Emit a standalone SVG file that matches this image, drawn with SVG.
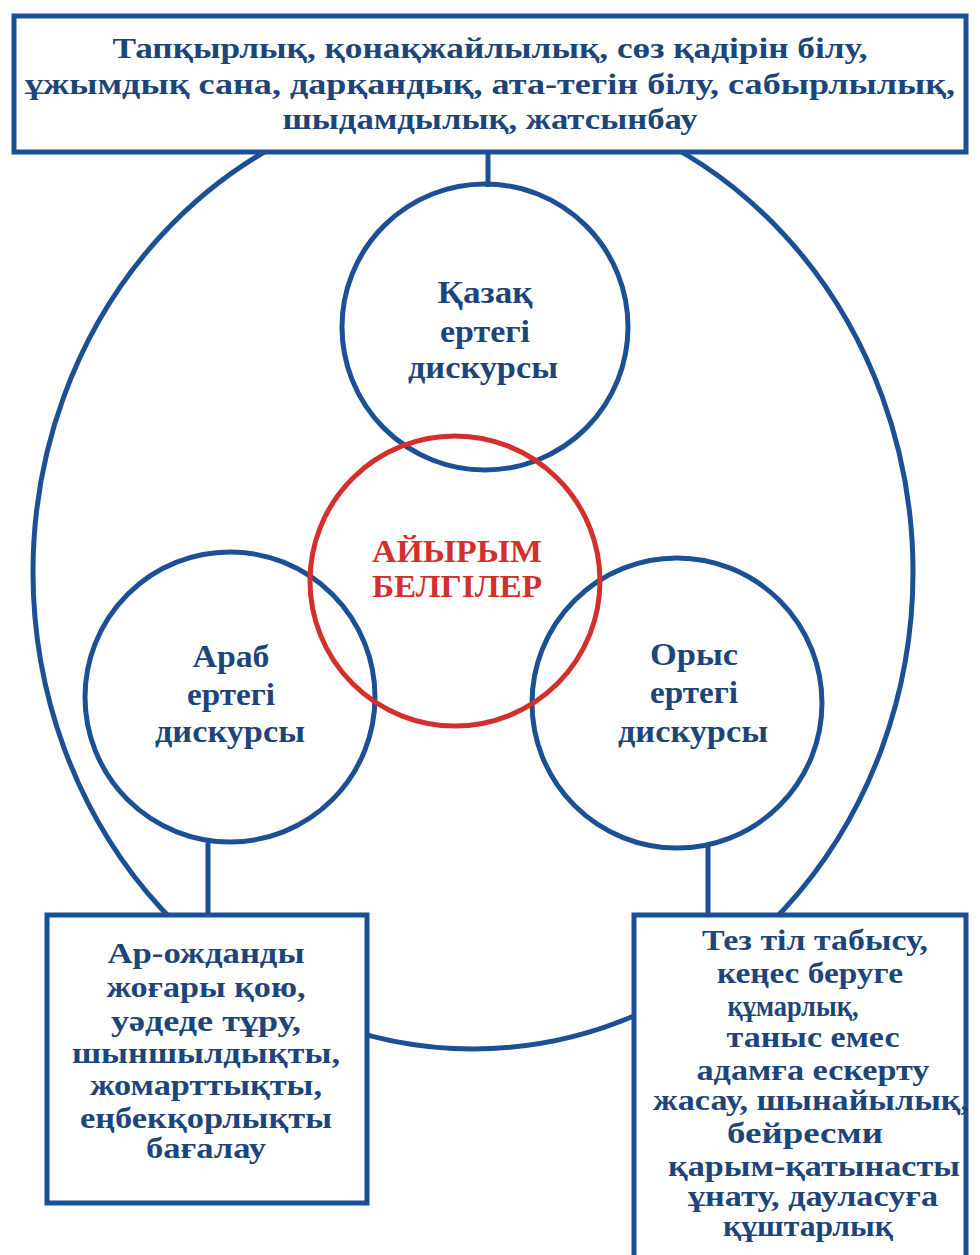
<svg xmlns="http://www.w3.org/2000/svg" width="980" height="1255" viewBox="0 0 980 1255">
  <style>
    .ln { fill: none; stroke: #1b5194; stroke-width: 5; }
    .box { fill: #ffffff; stroke: #1b5194; stroke-width: 5; }
    .red { fill: none; stroke: #d3302c; stroke-width: 5; }
    .t { font-family: "Liberation Serif", "DejaVu Serif", serif; font-weight: bold; fill: #1d4579; text-anchor: middle; }
    .tr { font-family: "Liberation Serif", "DejaVu Serif", serif; font-weight: bold; fill: #d3302c; text-anchor: middle; }
  </style>
  <rect width="980" height="1255" fill="#ffffff"/>

  <!-- outer ring and the stems that tie boxes to circles -->
  <g id="connectors">
    <ellipse class="ln" cx="473" cy="572" rx="440" ry="477"/>
    <line class="ln" x1="488" y1="150" x2="488" y2="187"/>
    <line class="ln" x1="208" y1="840" x2="208" y2="917"/>
    <line class="ln" x1="708" y1="846" x2="708" y2="917"/>
  </g>

  <g id="top-box">
    <rect class="box" x="14" y="16" width="952" height="136"/>
    <g class="t" font-size="30">
      <text x="490" y="58" textLength="755" lengthAdjust="spacingAndGlyphs">Тапқырлық, қонақжайлылық, сөз қадірін білу,</text>
      <text x="490" y="94" textLength="930" lengthAdjust="spacingAndGlyphs">ұжымдық сана, дарқандық, ата-тегін білу, сабырлылық,</text>
      <text x="490" y="129" textLength="415" lengthAdjust="spacingAndGlyphs">шыдамдылық, жатсынбау</text>
    </g>
  </g>

  <g id="kazakh">
    <circle class="ln" cx="485" cy="327" r="143"/>
    <g class="t" font-size="32">
      <text x="485" y="303" textLength="95" lengthAdjust="spacingAndGlyphs">Қазақ</text>
      <text x="485" y="342" textLength="90" lengthAdjust="spacingAndGlyphs">ертегі</text>
      <text x="483" y="378" textLength="150" lengthAdjust="spacingAndGlyphs">дискурсы</text>
    </g>
  </g>

  <g id="arab">
    <circle class="ln" cx="230" cy="697" r="145"/>
    <g class="t" font-size="32">
      <text x="231" y="667" textLength="77" lengthAdjust="spacingAndGlyphs">Араб</text>
      <text x="231" y="705" textLength="88" lengthAdjust="spacingAndGlyphs">ертегі</text>
      <text x="230" y="742" textLength="150" lengthAdjust="spacingAndGlyphs">дискурсы</text>
    </g>
  </g>

  <g id="russian">
    <circle class="ln" cx="677" cy="703" r="145"/>
    <g class="t" font-size="32">
      <text x="694" y="665" textLength="88" lengthAdjust="spacingAndGlyphs">Орыс</text>
      <text x="694" y="703" textLength="88" lengthAdjust="spacingAndGlyphs">ертегі</text>
      <text x="693" y="742" textLength="150" lengthAdjust="spacingAndGlyphs">дискурсы</text>
    </g>
  </g>

  <g id="distinct">
    <circle class="red" cx="455" cy="581" r="145"/>
    <g class="tr" font-size="31">
      <text x="457" y="562" textLength="170" lengthAdjust="spacingAndGlyphs">АЙЫРЫМ</text>
      <text x="457" y="597" textLength="170" lengthAdjust="spacingAndGlyphs">БЕЛГІЛЕР</text>
    </g>
  </g>

  <g id="arab-box">
    <rect class="box" x="47" y="915" width="320" height="288"/>
    <g class="t" font-size="29">
      <text x="206" y="963" textLength="197" lengthAdjust="spacingAndGlyphs">Ар-ожданды</text>
      <text x="206" y="997" textLength="199" lengthAdjust="spacingAndGlyphs">жоғары қою,</text>
      <text x="206" y="1031" textLength="190" lengthAdjust="spacingAndGlyphs">уәдеде тұру,</text>
      <text x="206" y="1063" textLength="268" lengthAdjust="spacingAndGlyphs">шыншылдықты,</text>
      <text x="206" y="1095" textLength="232" lengthAdjust="spacingAndGlyphs">жомарттықты,</text>
      <text x="206" y="1128" textLength="252" lengthAdjust="spacingAndGlyphs">еңбекқорлықты</text>
      <text x="206" y="1158" textLength="120" lengthAdjust="spacingAndGlyphs">бағалау</text>
    </g>
  </g>

  <g id="russian-box">
    <rect class="box" x="634" y="915" width="332" height="360"/>
    <g class="t" font-size="29">
      <text x="815" y="950" textLength="226" lengthAdjust="spacingAndGlyphs">Тез тіл табысу,</text>
      <text x="810" y="983" textLength="186" lengthAdjust="spacingAndGlyphs">кеңес беруге</text>
      <text x="793" y="1016" textLength="131" lengthAdjust="spacingAndGlyphs">құмарлық,</text>
      <text x="813" y="1047" textLength="173" lengthAdjust="spacingAndGlyphs">таныс емес</text>
      <text x="813" y="1080" textLength="233" lengthAdjust="spacingAndGlyphs">адамға ескерту</text>
      <text x="811" y="1110" textLength="316" lengthAdjust="spacingAndGlyphs">жасау, шынайылық,</text>
      <text x="805" y="1143" textLength="156" lengthAdjust="spacingAndGlyphs">бейресми</text>
      <text x="814" y="1176" textLength="292" lengthAdjust="spacingAndGlyphs">қарым-қатынасты</text>
      <text x="813" y="1206" textLength="250" lengthAdjust="spacingAndGlyphs">ұнату, дауласуға</text>
      <text x="808" y="1236" textLength="170" lengthAdjust="spacingAndGlyphs">құштарлық</text>
    </g>
  </g>
</svg>
